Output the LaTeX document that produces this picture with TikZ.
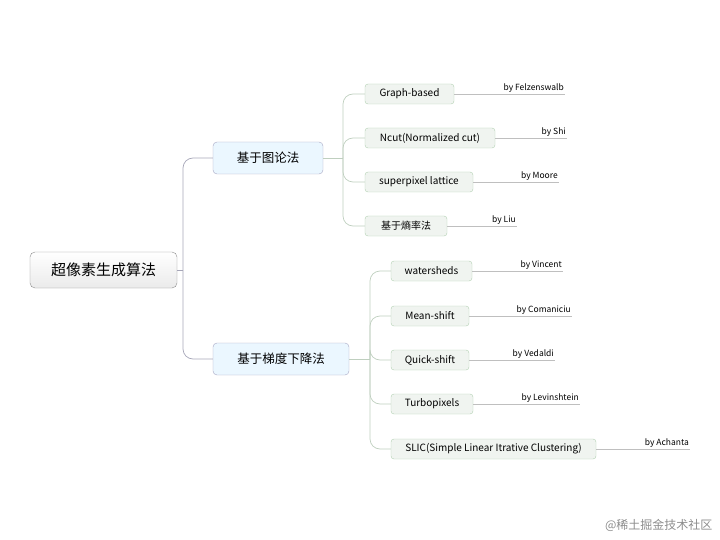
\documentclass[tikz,border=0pt]{standalone}
\usepackage{fontspec}
\setmainfont{Noto Sans CJK SC}
\begin{document}
\begin{tikzpicture}[x=1pt,y=-1pt,
  rootbox/.style={draw=black!45,rounded corners=5pt,top color=white,bottom color=black!8,minimum height=36pt,font=\fontsize{15}{17}\selectfont,inner xsep=0pt},
  lvbox/.style={draw=blue!30!black!35,rounded corners=4pt,fill=blue!40!cyan!8,minimum height=32pt,font=\fontsize{12.5}{14}\selectfont,inner xsep=0pt},
  leafbox/.style={draw=green!40!black!30,rounded corners=3pt,fill=green!30!black!6,minimum height=20pt,font=\fontsize{10}{11}\selectfont,inner xsep=0pt},
  lvline/.style={draw=blue!20!black!35,line width=0.7pt,rounded corners=10pt},
  leafline/.style={draw=green!25!black!25,line width=0.7pt,rounded corners=10pt},
  labline/.style={draw=black!25,line width=0.6pt},
  lab/.style={font=\fontsize{8.5}{9}\selectfont,anchor=south east,inner sep=1pt}]
\useasboundingbox (0,0) rectangle (720,540);
\node[rootbox,minimum width=147pt] (root) at (103.5,270) {超像素生成算法};
\node[lvbox,minimum width=110pt] (g1) at (268,158) {基于图论法};
\node[lvbox,minimum width=136pt] (g2) at (281,359) {基于梯度下降法};
\coordinate (j0) at (183,270);
\draw[lvline] (root.east) -- (j0);
\draw[lvline] (j0) |- (g1.west);
\draw[lvline] (j0) |- (g2.west);
% group 1
\coordinate (j1) at (343,158);
\draw[leafline] (g1.east) -- (j1);
\foreach \n/\t/\w/\y/\e/\a in {a/Graph-based/89/94/565/Felzenswalb, b/Ncut(Normalized cut)/130/138/567/Shi, c/superpixel lattice/108/182/559/Moore, d/基于熵率法/82/226/517/Liu}{
  \node[leafbox,minimum width=\w pt] (\n) at (365+\w/2,\y) {\t};
  \coordinate (\n e) at (\e,\y);
  \draw[labline] (\n.east) -- (\n e);
  \node[lab] (\n l) at (\n e) {by \a};
  \draw[leafline] (j1) |- (\n.west);
}
% group 2
\coordinate (j2) at (370,359);
\draw[leafline] (g2.east) -- (j2);
\foreach \n/\t/\w/\y/\e/\a in {p/watersheds/81/271/563/Vincent, q/Mean-shift/78/316/572/Comaniciu, r/Quick-shift/78/360/555/Vedaldi, s/Turbopixels/82/404/580/Levinshtein, t/SLIC(Simple Linear Itrative Clustering)/205/449/690/Achanta}{
  \node[leafbox,minimum width=\w pt] (\n) at (391+\w/2,\y) {\t};
  \coordinate (\n e) at (\e,\y);
  \draw[labline] (\n.east) -- (\n e);
  \node[lab] (\n l) at (\n e) {by \a};
  \draw[leafline] (j2) |- (\n.west);
}
\node[font=\fontsize{12}{14}\selectfont,text=black!45,anchor=east] (wm) at (716,525) {@稀土掘金技术社区};
\end{tikzpicture}
\end{document}
